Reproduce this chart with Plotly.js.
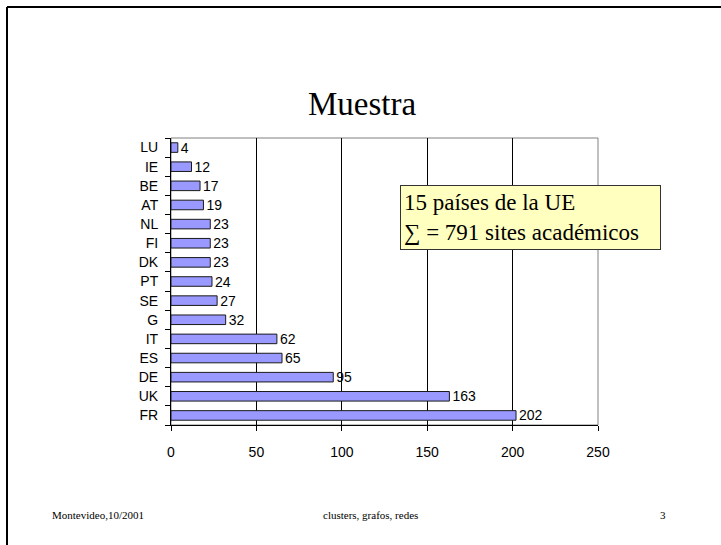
<!DOCTYPE html>
<html>
<head>
<meta charset="utf-8">
<script src="https://cdn.plot.ly/plotly-3.0.1.min.js"></script>
<style>html,body{margin:0;padding:0;background:#fff;}#chart{width:721px;height:545px;}</style>
</head>
<body>
<div id="chart"></div>
<script>
const countries = ["FR","UK","DE","ES","IT","G","SE","PT","DK","FI","NL","AT","BE","IE","LU"];
const sites = [202,163,95,65,62,32,27,24,23,23,23,19,17,12,4];
const xTicks = [0,50,100,150,200,250];
const titleText = "Muestra";
const noteText = "15 países de la UE<br>∑ = 791 sites académicos";
const footerLeft = "Montevideo,10/2001";
const footerCenter = "clusters, grafos, redes";
const footerRight = "3";

const L = 171, R = 598, T = 138, B = 425;
const W = R - L, H = B - T;
const px = x => (x - L) / W;
const py = y => (B - y) / H;
const serif = "Liberation Serif";
const sans = "Arial, Liberation Sans";

const trace = {
  type: "bar",
  orientation: "h",
  y: countries,
  x: sites,
  text: sites.map(String),
  textposition: "outside",
  constraintext: "none",
  textfont: {family: sans, size: 14, color: "#000"},
  cliponaxis: false,
  marker: {color: "#9999ff", line: {color: "#1a1a1a", width: 1}},
  width: 0.5,
  hoverinfo: "skip"
};

const layout = {
  width: 721, height: 545,
  margin: {l: L, r: 721 - R, t: T, b: 545 - B},
  paper_bgcolor: "#fff", plot_bgcolor: "#fff",
  showlegend: false,
  xaxis: {
    range: [0, 250], tickvals: xTicks, ticktext: xTicks.map(String),
    showgrid: true, gridcolor: "#000", gridwidth: 1,
    zeroline: false, showline: true, linecolor: "#000", linewidth: 1,
    ticks: "outside", ticklen: 5, tickcolor: "#000",
    tickfont: {family: sans, size: 14, color: "#000"},
    ticklabelstandoff: 9,
    fixedrange: true
  },
  yaxis: {
    type: "category", tickson: "boundaries",
    showgrid: false, zeroline: false, showline: true, linecolor: "#000", linewidth: 1,
    ticks: "outside", ticklen: 5, tickcolor: "#000",
    tickfont: {family: sans, size: 14, color: "#000"},
    ticklabelstandoff: 9,
    fixedrange: true
  },
  shapes: [
    {type: "rect", xref: "paper", yref: "paper", x0: 0, x1: 1, y0: 0, y1: 1,
     line: {color: "#808080", width: 1}, layer: "below"},
    {type: "line", xref: "paper", yref: "paper", x0: px(7), x1: px(7), y0: py(7), y1: py(560),
     line: {color: "#000", width: 2}},
    {type: "line", xref: "paper", yref: "paper", x0: px(7), x1: px(730), y0: py(7), y1: py(7),
     line: {color: "#000", width: 2}}
  ],
  annotations: [
    {text: titleText, xref: "paper", yref: "paper", x: px(362), y: py(104),
     xanchor: "center", yanchor: "middle", showarrow: false,
     font: {family: serif, size: 33, color: "#000"}},
    {text: noteText, xref: "paper", yref: "paper", x: px(400), y: py(185),
     xanchor: "left", yanchor: "top", align: "left", showarrow: false,
     width: 253, height: 57, valign: "middle",
     bgcolor: "#ffffc0", bordercolor: "#333", borderwidth: 1, borderpad: 3,
     font: {family: serif, size: 23, color: "#000"}},
    {text: footerLeft, xref: "paper", yref: "paper", x: px(50), y: py(515),
     xanchor: "left", yanchor: "middle", showarrow: false,
     font: {family: serif, size: 11, color: "#000"}},
    {text: footerCenter, xref: "paper", yref: "paper", x: px(370), y: py(515),
     xanchor: "center", yanchor: "middle", showarrow: false,
     font: {family: serif, size: 11, color: "#000"}},
    {text: footerRight, xref: "paper", yref: "paper", x: px(663), y: py(515),
     xanchor: "center", yanchor: "middle", showarrow: false,
     font: {family: serif, size: 11, color: "#000"}}
  ]
};

Plotly.newPlot("chart", [trace], layout, {staticPlot: true, displayModeBar: false});
</script>
</body>
</html>
